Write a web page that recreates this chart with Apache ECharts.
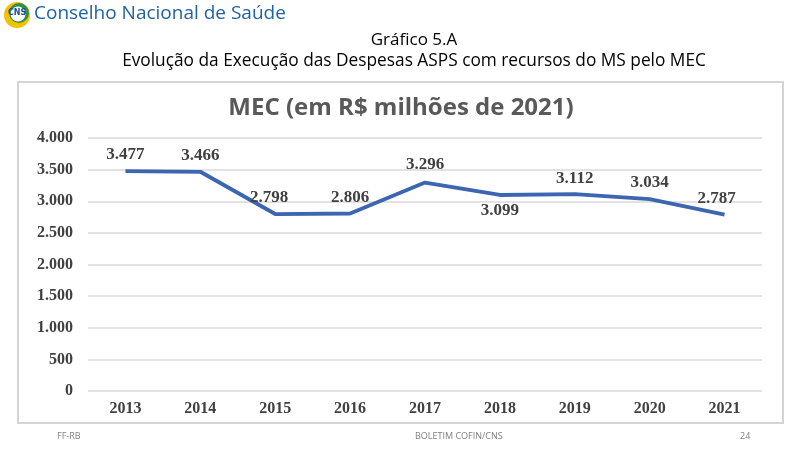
<!DOCTYPE html>
<html>
<head>
<meta charset="utf-8">
<script src="https://cdn.jsdelivr.net/npm/echarts@6/dist/echarts.min.js"></script>
<style>
    html, body { margin: 0; padding: 0; background: #fff; }
    #main { width: 800px; height: 451px; }
</style>
</head>
<body>
<div id="main"></div>
<script>
    var anos = ['2013', '2014', '2015', '2016', '2017', '2018', '2019', '2020', '2021'];
    var valores = [3477, 3466, 2798, 2806, 3296, 3099, 3112, 3034, 2787]; // R$ milhões
    var posRotulo = ['top', 'top', 'top', 'top', 'top', 'bottom', 'top', 'top', 'top'];

    // 3477 -> "3.477"
    function fmt(v) {
        return String(v).replace(/\B(?=(\d{3})+(?!\d))/g, '.');
    }

    var dados = [];
    for (var i = 0; i < valores.length; i++) {
        dados.push({
            value: valores[i],
            label: { position: posRotulo[i], distance: 7 }
        });
    }
    // alguns rótulos um pouco à esquerda, como no original
    dados[8].label.offset = [-8, 0];
    dados[2].label.offset = [-6, 0];
    dados[4].label.distance = 9;

    var myChart = echarts.init(document.getElementById('main'));
    var serif = '"Liberation Serif", "DejaVu Serif", serif';
    var option = {
        animation: false,
        backgroundColor: '#fff',
        title: [
            {
                text: 'Gráfico 5.A',
                left: 409, top: 27, textAlign: 'center',
                textStyle: { fontFamily: 'Open Sans', fontWeight: 'normal', fontSize: 17, color: '#000' }
            },
            {
                text: 'Evolução da Execução das Despesas ASPS com recursos do MS pelo MEC',
                left: 409, top: 48, textAlign: 'center',
                textStyle: { fontFamily: 'Open Sans', fontWeight: 'normal', fontSize: 17.3, color: '#000' }
            },
            {
                text: 'MEC (em R$ milhões de 2021)',
                left: 396, top: 91, textAlign: 'center',
                textStyle: { fontFamily: 'Open Sans', fontWeight: 'bold', fontSize: 24, color: '#595959' }
            }
        ],
        graphic: [
            // moldura do gráfico
            {
                type: 'rect', z: -1,
                shape: { x: 18, y: 82, width: 765, height: 341 },
                style: { fill: '#fff', stroke: '#d4d4d4', lineWidth: 2 }
            },
            // logo CNS (simplificado)
            {
                type: 'circle', shape: { cx: 17, cy: 15, r: 13 },
                style: { fill: '#f2c200' }
            },
            {
                type: 'circle', shape: { cx: 19, cy: 13, r: 10 },
                style: { fill: '#2f8f4e' }
            },
            {
                type: 'circle', shape: { cx: 18, cy: 14, r: 7.5 },
                style: { fill: '#fff' }
            },
            {
                type: 'text', left: 8, top: 9,
                style: { text: 'CNS', fontSize: 8, fontWeight: 'bold', fill: '#1b4f91', fontFamily: 'DejaVu Sans' }
            },
            {
                type: 'text', left: 34, top: 4,
                style: { text: 'Conselho Nacional de Saúde', fontSize: 19, fill: '#1f62a3', fontFamily: 'Open Sans' }
            },
            // rodapé
            {
                type: 'text', left: 57, top: 432,
                style: { text: 'FF-RB', fontSize: 9, fill: '#808080', fontFamily: 'Open Sans' }
            },
            {
                type: 'text', left: 415, top: 432,
                style: { text: 'BOLETIM COFIN/CNS', fontSize: 9, fill: '#808080', fontFamily: 'Open Sans', textAlign: 'center' }
            },
            {
                type: 'text', left: 740, top: 432,
                style: { text: '24', fontSize: 9, fill: '#808080', fontFamily: 'Open Sans' }
            }
        ],
        grid: { left: 88, right: 38, top: 138, bottom: 60 },
        xAxis: {
            type: 'category',
            data: anos,
            axisLine: { show: false },
            axisTick: { show: false },
            axisLabel: { margin: 10, fontFamily: serif, fontWeight: 'bold', fontSize: 16, color: '#404040' }
        },
        yAxis: {
            type: 'value',
            min: 0, max: 4000, interval: 500,
            axisLine: { show: false },
            axisTick: { show: false },
            splitLine: { lineStyle: { color: '#d9d9d9', width: 1.5 } },
            axisLabel: {
                margin: 15, fontFamily: serif, fontWeight: 'bold', fontSize: 16, color: '#404040',
                formatter: function (v) { return fmt(v); }
            }
        },
        series: [
            {
                name: 'MEC',
                type: 'line',
                data: dados,
                symbol: 'circle',
                symbolSize: 1,
                itemStyle: { color: 'rgba(0,0,0,0)' },
                lineStyle: { color: '#3d66b0', width: 3.8 },
                label: {
                    show: true,
                    fontFamily: serif, fontWeight: 'bold', fontSize: 17, color: '#404040',
                    formatter: function (p) { return fmt(p.value); }
                }
            }
        ]
    };
    myChart.setOption(option);
</script>
</body>
</html>
